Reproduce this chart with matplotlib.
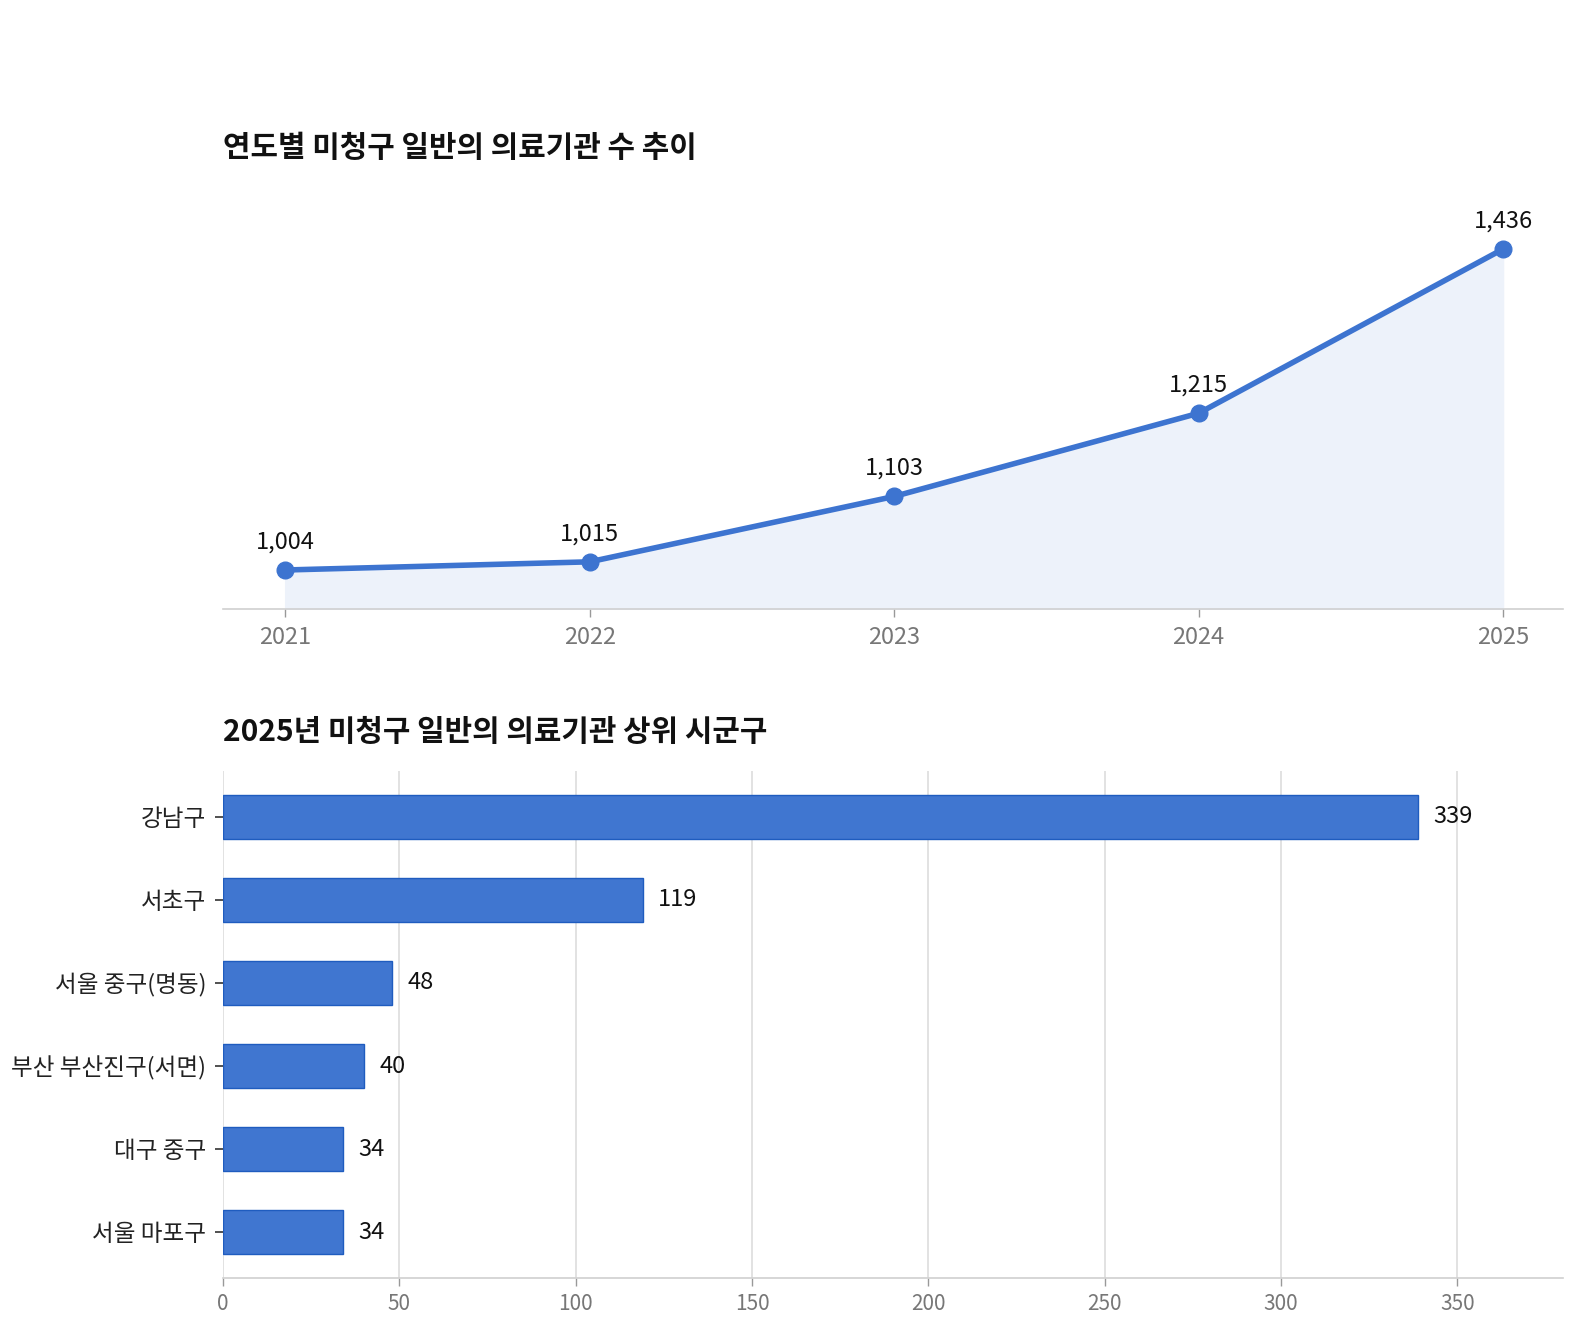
import matplotlib
matplotlib.use("Agg")
import matplotlib.pyplot as plt

plt.rcParams['font.family'] = ['Noto Sans CJK KR', 'DejaVu Sans']

years = [2021, 2022, 2023, 2024, 2025]
counts = [1004, 1015, 1103, 1215, 1436]

regions = ["강남구", "서초구", "서울 중구(명동)", "부산 부산진구(서면)", "대구 중구", "서울 마포구"]
region_counts = [339, 119, 48, 40, 34, 34]

title1 = "연도별 미청구 일반의 의료기관 수 추이"
title2 = "2025년 미청구 일반의 의료기관 상위 시군구"

line_color = "#3d74d0"
bar_color = "#4076d0"
axis_gray = "#d0d0d0"
tick_gray = "#777777"

fig = plt.figure(figsize=(15.72, 13.3), dpi=100)

# ---- top line chart ----
ax1 = fig.add_axes([0.1419, 0.5421, 0.8524, 0.3075])
ymin = 951.5
ax1.fill_between(years, counts, ymin, color="#edf2fa", zorder=1)
ax1.plot(years, counts, color=line_color, lw=4, marker="o", ms=12, zorder=3)
for x, v in zip(years, counts):
    ax1.annotate(f"{v:,}", (x, v), xytext=(0, 12), textcoords="offset points",
                 ha="center", va="bottom", fontsize=17, color="#111111")
ax1.set_xlim(2020.796, 2025.197)
ax1.set_ylim(ymin, 1502)
ax1.set_xticks(years)
ax1.set_xticklabels([str(y) for y in years])
ax1.set_yticks([])
for s in ["top", "right", "left"]:
    ax1.spines[s].set_visible(False)
ax1.spines["bottom"].set_color(axis_gray)
ax1.spines["bottom"].set_linewidth(1.2)
ax1.tick_params(axis="x", colors=tick_gray, labelsize=17, length=6, width=1, pad=6)
ax1.tick_params(axis="x", which="both", color="#999999")
fig.text(223/1572, 1-148/1330, title1, fontsize=21.5, fontweight="bold",
         color="#111111", ha="left", va="center")

# ---- bottom bar chart ----
ax2 = fig.add_axes([0.1419, 0.0391, 0.8524, 0.3812])
ypos = list(range(len(regions)))
ax2.barh(ypos, region_counts, height=0.54, color=bar_color, edgecolor="#1f5cbf",
         linewidth=1, zorder=3)
for y, v in zip(ypos, region_counts):
    ax2.annotate(f"{v}", (v, y), xytext=(11, 0), textcoords="offset points",
                 ha="left", va="center", fontsize=17, color="#111111")
ax2.set_xlim(0, 380)
ax2.set_ylim(5.554, -0.554)
ax2.set_yticks(ypos)
ax2.set_yticklabels(regions)
ax2.set_xticks([0, 50, 100, 150, 200, 250, 300, 350])
ax2.grid(axis="x", color="#dddddd", lw=1.2, zorder=0)
for s in ["top", "right", "left"]:
    ax2.spines[s].set_visible(False)
ax2.spines["bottom"].set_color(axis_gray)
ax2.spines["bottom"].set_linewidth(1.2)
ax2.tick_params(axis="x", colors=tick_gray, labelsize=15, length=6, width=1, pad=5)
ax2.tick_params(axis="x", color="#999999")
ax2.tick_params(axis="y", labelsize=17, labelcolor="#222222", color="#333333",
                length=6, width=1.2, pad=6)
fig.text(223/1572, 1-732/1330, title2, fontsize=21.5, fontweight="bold",
         color="#111111", ha="left", va="center")

fig.savefig("out.png", dpi=100, facecolor="white")
